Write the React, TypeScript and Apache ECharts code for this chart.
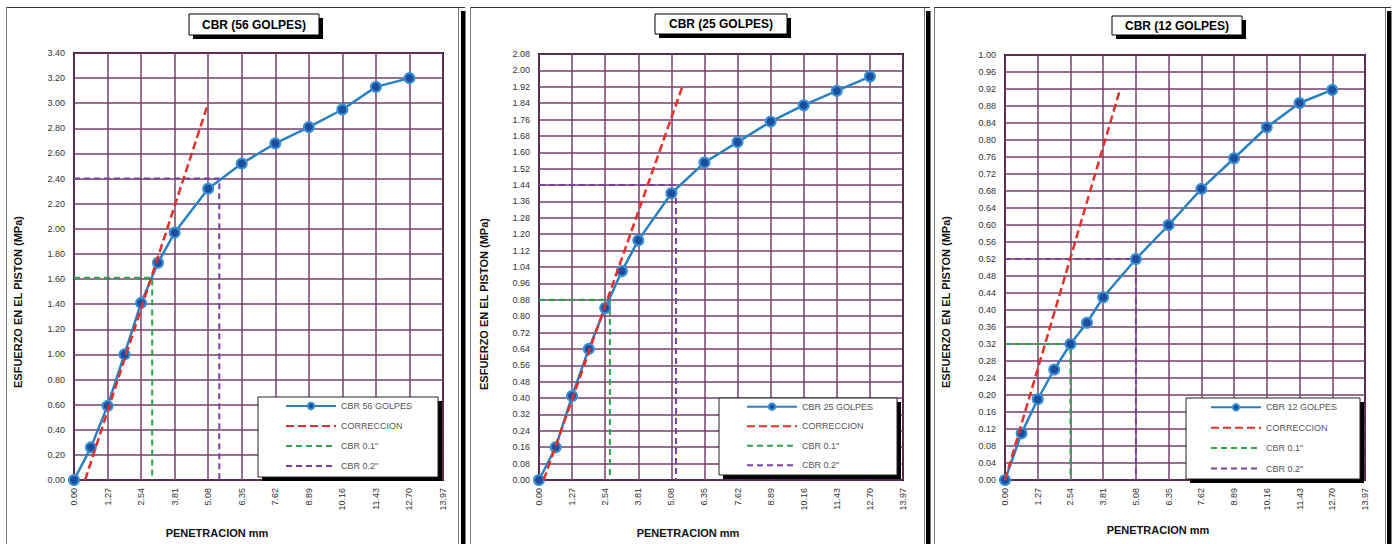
import React, { useEffect, useRef } from "react";
import * as echarts from "echarts";

// ---- Data ----
const penetration = [0, 0.64, 1.27, 1.91, 2.54, 3.18, 3.81, 5.08, 6.35, 7.62, 8.89, 10.16, 11.43, 12.7];
const stress56 = [0, 0.26, 0.59, 1.0, 1.41, 1.73, 1.97, 2.32, 2.52, 2.68, 2.81, 2.95, 3.13, 3.2];
const stress25 = [0, 0.16, 0.41, 0.64, 0.84, 1.02, 1.17, 1.4, 1.55, 1.65, 1.75, 1.83, 1.9, 1.97];
const stress12 = [0, 0.11, 0.19, 0.26, 0.32, 0.37, 0.43, 0.52, 0.6, 0.685, 0.757, 0.83, 0.887, 0.918];

const corr56X = [0.42, 5.08];
const corr56Y = [0, 3.0];
const corr25X = [0.18, 5.5];
const corr25Y = [0, 1.92];
const corr12X = [0, 4.47];
const corr12Y = [0, 0.92];

const cbr1_56X = [0, 2.96, 2.96];
const cbr1_56Y = [1.61, 1.61, 0];
const cbr2_56X = [0, 5.5, 5.5];
const cbr2_56Y = [2.4, 2.4, 0];
const cbr1_25X = [0, 2.72, 2.72];
const cbr1_25Y = [0.88, 0.88, 0];
const cbr2_25X = [0, 5.26, 5.26];
const cbr2_25Y = [1.44, 1.44, 0];
const cbr1_12X = [0, 2.54, 2.54];
const cbr1_12Y = [0.32, 0.32, 0];
const cbr2_12X = [0, 5.08, 5.08];
const cbr2_12Y = [0.52, 0.52, 0];

const titles = ["CBR (56 GOLPES)", "CBR (25 GOLPES)", "CBR (12 GOLPES)"];
const seriesNames = ["CBR 56 GOLPES", "CBR 25 GOLPES", "CBR 12 GOLPES"];
const legendNames = ["CORRECCION", 'CBR 0.1"', 'CBR 0.2"'];
const yMaxes = [3.4, 2.08, 1.0];
const ySteps = [0.2, 0.08, 0.04];
const xMax = 13.97;
const xStep = 1.27;
const yAxisName = "ESFUERZO EN EL PISTON (MPa)";
const xAxisName = "PENETRACION mm";

const pairs = (xs: number[], ys: number[]) => xs.map((x, i) => [x, ys[i]]);

const FONT = "'Liberation Sans', Arial, sans-serif";

export default function App() {
  const ref = useRef<HTMLDivElement>(null);
  useEffect(() => {
    if (!ref.current) return;
    const chart = echarts.init(ref.current, undefined, { renderer: "svg" });

    const grids = [
      { left: 74, top: 53, width: 369, height: 427 },
      { left: 539, top: 54, width: 364, height: 426 },
      { left: 1005, top: 55, width: 360, height: 425 },
    ];
    const frames = [
      { x: 6.5, right: 458.5, barX: 461 },
      { x: 470.5, right: 924.5, barX: 926 },
      { x: 934.5, right: 1385.5, barX: 1387 },
    ];
    const titleBoxes = [
      { x: 189, y: 14, w: 130, h: 21 },
      { x: 655, y: 14, w: 132, h: 20 },
      { x: 1112, y: 16, w: 130, h: 19 },
    ];
    const legendBoxes = [
      { x: 258, y: 397, w: 180, h: 80, iconX: 280, top: 396.5, gap: 11 },
      { x: 719, y: 398, w: 178, h: 77, iconX: 741, top: 397.2, gap: 10.5 },
      { x: 1186, y: 398, w: 174, h: 81, iconX: 1205, top: 397.8, gap: 11.4 },
    ];
    const yNameX = [18, 483.5, 946];
    const yNameY = [302, 304, 302];
    const xNameX = [217, 688, 1158];
    const xNameY = [533, 533, 530];

    const mainData = [stress56, stress25, stress12];
    const corrData = [pairs(corr56X, corr56Y), pairs(corr25X, corr25Y), pairs(corr12X, corr12Y)];
    const cbr1Data = [pairs(cbr1_56X, cbr1_56Y), pairs(cbr1_25X, cbr1_25Y), pairs(cbr1_12X, cbr1_12Y)];
    const cbr2Data = [pairs(cbr2_56X, cbr2_56Y), pairs(cbr2_25X, cbr2_25Y), pairs(cbr2_12X, cbr2_12Y)];

    const gridColor = "#74406d";

    const xAxes = grids.map((_, i) => ({
      type: "value",
      gridIndex: i,
      min: 0,
      max: xMax,
      interval: xStep,
      axisLine: { show: false },
      axisTick: { show: false },
      axisLabel: {
        rotate: 90,
        margin: 8,
        fontSize: 9,
        color: "#333",
        fontFamily: FONT,
        formatter: (v: number) => v.toFixed(2),
      },
      splitLine: { show: true, lineStyle: { color: gridColor, width: 1.5 } },
    }));
    const yAxes = grids.map((_, i) => ({
      type: "value",
      gridIndex: i,
      min: 0,
      max: yMaxes[i],
      interval: ySteps[i],
      axisLine: { show: false },
      axisTick: { show: false },
      axisLabel: {
        margin: 9,
        fontSize: 9,
        color: "#333",
        fontFamily: FONT,
        formatter: (v: number) => v.toFixed(2),
      },
      splitLine: { show: true, lineStyle: { color: gridColor, width: 1.5 } },
    }));

    const series: any[] = [];
    grids.forEach((_, i) => {
      series.push({
        name: seriesNames[i],
        type: "line",
        xAxisIndex: i,
        yAxisIndex: i,
        data: pairs(penetration, mainData[i]),
        symbol: "circle",
        symbolSize: 10,
        itemStyle: { color: "#1b4f9e", borderColor: "#3a8fd4", borderWidth: 2 },
        lineStyle: { color: "#2a80c2", width: 2.5 },
        z: 5,
      });
      series.push({
        name: legendNames[0],
        type: "line",
        xAxisIndex: i,
        yAxisIndex: i,
        data: corrData[i],
        symbol: "none",
        itemStyle: { color: "#e4302c" },
        lineStyle: { color: "#e4302c", width: 2.5, type: [8, 4] },
        z: 6,
      });
      series.push({
        name: legendNames[1],
        type: "line",
        xAxisIndex: i,
        yAxisIndex: i,
        data: cbr1Data[i],
        symbol: "none",
        itemStyle: { color: "#2fa24e" },
        lineStyle: { color: "#2fa24e", width: 2, type: [6, 4] },
        z: 4,
      });
      series.push({
        name: legendNames[2],
        type: "line",
        xAxisIndex: i,
        yAxisIndex: i,
        data: cbr2Data[i],
        symbol: "none",
        itemStyle: { color: "#7a3fa3" },
        lineStyle: { color: "#7a3fa3", width: 2, type: [6, 4] },
        z: 4,
      });
    });

    const hidden = { opacity: 0, borderWidth: 0 };
    const legends = legendBoxes.map((b, i) => ({
      left: b.iconX,
      top: b.top,
      orient: "vertical",
      itemWidth: 50,
      itemHeight: 8,
      itemGap: b.gap,
      selectedMode: false,
      z: 10,
      data: [
        { name: seriesNames[i] },
        { name: legendNames[0], itemStyle: hidden },
        { name: legendNames[1], itemStyle: hidden },
        { name: legendNames[2], itemStyle: hidden },
      ],
      textStyle: { fontSize: 9, color: "#555", fontFamily: FONT },
    }));

    const graphics: any[] = [];
    frames.forEach((f, i) => {
      graphics.push({
        type: "rect",
        z: -10,
        shape: { x: f.x, y: 7.5, width: f.right - f.x, height: 540 },
        style: { fill: "#fff", stroke: "#7a7a7a", lineWidth: 1 },
      });
      graphics.push({
        type: "line",
        z: -9,
        shape: { x1: f.x, y1: 7.5, x2: f.barX + 4, y2: 7.5 },
        style: { stroke: "#333", lineWidth: 1.2 },
      });
      graphics.push({
        type: "rect",
        z: -9,
        shape: { x: f.barX, y: 11, width: 4.5, height: 533 },
        style: { fill: "#000" },
      });
      const t = titleBoxes[i];
      graphics.push({
        type: "rect",
        z: 20,
        shape: { x: t.x + 4, y: t.y + 4, width: t.w, height: t.h },
        style: { fill: "#000" },
      });
      graphics.push({
        type: "rect",
        z: 21,
        shape: { x: t.x, y: t.y, width: t.w, height: t.h },
        style: { fill: "#fff", stroke: "#000", lineWidth: 1 },
      });
      graphics.push({
        type: "text",
        z: 22,
        x: t.x + t.w / 2,
        y: t.y + t.h / 2,
        style: {
          text: titles[i],
          font: `bold 12px ${FONT}`,
          fill: "#000",
          align: "center",
          verticalAlign: "middle",
          textAlign: "center",
          textVerticalAlign: "middle",
        },
      });
      const b = legendBoxes[i];
      graphics.push({
        type: "rect",
        z: 8,
        shape: { x: b.x + 4, y: b.y + 4, width: b.w, height: b.h },
        style: { fill: "#000" },
      });
      graphics.push({
        type: "rect",
        z: 9,
        shape: { x: b.x, y: b.y, width: b.w, height: b.h },
        style: { fill: "#fff", stroke: "#222", lineWidth: 1 },
      });
      graphics.push({
        type: "text",
        z: 22,
        x: yNameX[i],
        y: yNameY[i],
        rotation: Math.PI / 2,
        style: {
          text: yAxisName,
          font: `bold 11px ${FONT}`,
          fill: "#111",
          align: "center",
          verticalAlign: "middle",
          textAlign: "center",
          textVerticalAlign: "middle",
        },
      });
      graphics.push({
        type: "text",
        z: 22,
        x: xNameX[i],
        y: xNameY[i],
        style: {
          text: xAxisName,
          font: `bold 11px ${FONT}`,
          fill: "#111",
          align: "center",
          verticalAlign: "middle",
          textAlign: "center",
          textVerticalAlign: "middle",
        },
      });
    });

    chart.setOption({
      animation: false,
      backgroundColor: "#fff",
      grid: grids.map((g) => ({
        ...g,
        show: true,
        backgroundColor: "#fff",
        borderColor: "#000",
        borderWidth: 2,
        containLabel: false,
      })),
      xAxis: xAxes,
      yAxis: yAxes,
      legend: legends,
      graphic: { elements: graphics },
      series,
    });

    return () => chart.dispose();
  }, []);

  return (
    <div
      ref={ref}
      style={{ position: "fixed", left: 0, top: 0, width: 1397, height: 544, background: "#fff" }}
    />
  );
}
